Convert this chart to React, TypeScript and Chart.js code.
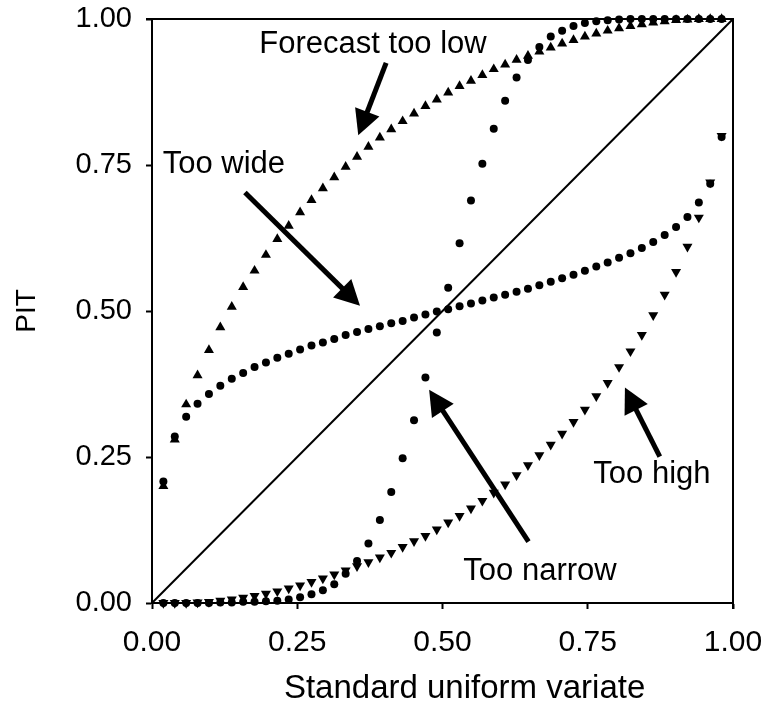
import React, { useEffect, useRef } from 'react';
import { Chart, registerables } from 'chart.js';

Chart.register(...registerables);

// Standard uniform variate positions (ranks i/51)
const xValues = [
  0.0196, 0.0392, 0.0588, 0.0784, 0.0980, 0.1176, 0.1373, 0.1569, 0.1765, 0.1961,
  0.2157, 0.2353, 0.2549, 0.2745, 0.2941, 0.3137, 0.3333, 0.3529, 0.3725, 0.3922,
  0.4118, 0.4314, 0.4510, 0.4706, 0.4902, 0.5098, 0.5294, 0.5490, 0.5686, 0.5882,
  0.6078, 0.6275, 0.6471, 0.6667, 0.6863, 0.7059, 0.7255, 0.7451, 0.7647, 0.7843,
  0.8039, 0.8235, 0.8431, 0.8627, 0.8824, 0.9020, 0.9216, 0.9412, 0.9608, 0.9804,
];

// Forecast too low (up triangles)
const tooLow = [
  0.200, 0.280, 0.340, 0.390, 0.433, 0.472, 0.507, 0.541, 0.569, 0.596,
  0.623, 0.646, 0.669, 0.690, 0.710, 0.729, 0.747, 0.764, 0.781, 0.797,
  0.811, 0.825, 0.838, 0.851, 0.862, 0.874, 0.885, 0.894, 0.904, 0.914,
  0.922, 0.930, 0.937, 0.944, 0.951, 0.958, 0.964, 0.970, 0.975, 0.980,
  0.984, 0.988, 0.991, 0.994, 0.996, 0.998, 0.999, 1.000, 1.000, 1.000,
];

// Forecast too high (down triangles)
const tooHigh = [
  0.000, 0.000, 0.000, 0.001, 0.002, 0.004, 0.006, 0.009, 0.012, 0.016,
  0.020, 0.025, 0.030, 0.036, 0.042, 0.049, 0.056, 0.063, 0.070, 0.078,
  0.086, 0.096, 0.106, 0.115, 0.126, 0.138, 0.149, 0.162, 0.175, 0.189,
  0.203, 0.219, 0.236, 0.253, 0.271, 0.290, 0.310, 0.331, 0.354, 0.377,
  0.404, 0.431, 0.459, 0.493, 0.528, 0.567, 0.610, 0.660, 0.720, 0.800,
];

// Too wide (dots)
const tooWide = [
  0.208, 0.285, 0.319, 0.341, 0.358, 0.372, 0.384, 0.394, 0.404, 0.412,
  0.420, 0.427, 0.434, 0.441, 0.446, 0.452, 0.459, 0.464, 0.469, 0.474,
  0.479, 0.483, 0.489, 0.494, 0.499, 0.503, 0.508, 0.513, 0.518, 0.523,
  0.528, 0.533, 0.538, 0.544, 0.550, 0.556, 0.562, 0.569, 0.576, 0.583,
  0.591, 0.599, 0.608, 0.618, 0.630, 0.644, 0.661, 0.686, 0.718, 0.798,
];

// Too narrow (dots)
const tooNarrow = [
  0.000, 0.000, 0.000, 0.000, 0.000, 0.001, 0.001, 0.002, 0.002, 0.003,
  0.004, 0.006, 0.010, 0.015, 0.022, 0.032, 0.050, 0.072, 0.102, 0.142,
  0.190, 0.248, 0.313, 0.386, 0.463, 0.540, 0.616, 0.689, 0.752, 0.812,
  0.860, 0.900, 0.930, 0.952, 0.970, 0.980, 0.988, 0.993, 0.996, 0.998,
  0.999, 1.000, 1.000, 1.000, 1.000, 1.000, 1.000, 1.000, 1.000, 1.000,
];

const tickValues = [0, 0.25, 0.5, 0.75, 1];

const xTitle = 'Standard uniform variate';
const yTitle = 'PIT';

const annotationLabels = ['Forecast too low', 'Too wide', 'Too narrow', 'Too high'];

// label anchor (left, baseline) and arrow tail/tip, in data units
const annotationLayout = [
  { tx: 0.1847, ty: 0.941, from: [0.403, 0.925], to: [0.355, 0.801] },
  { tx: 0.0184, ty: 0.7358, from: [0.160, 0.703], to: [0.358, 0.509] },
  { tx: 0.5358, ty: 0.0394, from: [0.648, 0.105], to: [0.477, 0.365] },
  { tx: 0.7596, ty: 0.205, from: [0.874, 0.2505], to: [0.814, 0.369] },
];

const FONT = '"Liberation Sans", Arial, sans-serif';

const annotationPlugin = {
  id: 'pitAnnotations',
  afterDatasetsDraw(chart: any) {
    const { ctx, chartArea: a } = chart;
    const xs = chart.scales.x;
    const ys = chart.scales.y;
    ctx.save();
    // top and right frame
    ctx.strokeStyle = '#000';
    ctx.lineWidth = 2;
    ctx.beginPath();
    ctx.moveTo(a.left - 6, a.top);
    ctx.lineTo(a.right, a.top);
    ctx.lineTo(a.right, a.bottom + 6);
    ctx.stroke();

    annotationLayout.forEach((an, i) => {
      const fx = xs.getPixelForValue(an.from[0]);
      const fy = ys.getPixelForValue(an.from[1]);
      const tx = xs.getPixelForValue(an.to[0]);
      const ty = ys.getPixelForValue(an.to[1]);
      const ang = Math.atan2(ty - fy, tx - fx);
      const headLen = 25;
      const halfW = 13;
      const bx = tx - headLen * Math.cos(ang);
      const by = ty - headLen * Math.sin(ang);
      ctx.strokeStyle = '#000';
      ctx.lineWidth = 5;
      ctx.lineCap = 'butt';
      ctx.beginPath();
      ctx.moveTo(fx, fy);
      ctx.lineTo(bx + 2 * Math.cos(ang), by + 2 * Math.sin(ang));
      ctx.stroke();
      const px = -Math.sin(ang);
      const py = Math.cos(ang);
      ctx.fillStyle = '#000';
      ctx.beginPath();
      ctx.moveTo(tx, ty);
      ctx.lineTo(bx + px * halfW, by + py * halfW);
      ctx.lineTo(bx - px * halfW, by - py * halfW);
      ctx.closePath();
      ctx.fill();

      ctx.font = `31px ${FONT}`;
      ctx.textAlign = 'left';
      ctx.textBaseline = 'alphabetic';
      ctx.fillText(annotationLabels[i], xs.getPixelForValue(an.tx), ys.getPixelForValue(an.ty));
    });

    // x axis title
    ctx.font = `33px ${FONT}`;
    ctx.textAlign = 'center';
    ctx.textBaseline = 'alphabetic';
    ctx.fillStyle = '#000';
    ctx.fillText(xTitle, xs.getPixelForValue(0.538), xs.bottom - 5);
    ctx.restore();
  },
};

const toPoints = (vals: number[]) => vals.map((v, i) => ({ x: xValues[i], y: v }));

export default function App() {
  const ref = useRef<HTMLCanvasElement | null>(null);

  useEffect(() => {
    if (!ref.current) return;
    Chart.defaults.font.family = FONT;
    const pointBase = {
      pointBackgroundColor: '#000',
      backgroundColor: '#000',
      pointBorderWidth: 0,
      borderWidth: 0,
      showLine: false,
      clip: false as any,
    };
    const tickCb = (v: any) => Number(v).toFixed(2);
    const chart = new Chart(ref.current, {
      type: 'scatter',
      data: {
        datasets: [
          {
            label: 'Forecast too low',
            data: toPoints(tooLow),
            pointStyle: 'triangle',
            pointRadius: 5.8,
            ...pointBase,
          },
          {
            label: 'Too high',
            data: toPoints(tooHigh),
            pointStyle: 'triangle',
            pointRotation: 180,
            pointRadius: 5.8,
            ...pointBase,
          },
          {
            label: 'Too wide',
            data: toPoints(tooWide),
            pointStyle: 'circle',
            pointRadius: 4,
            ...pointBase,
          },
          {
            label: 'Too narrow',
            data: toPoints(tooNarrow),
            pointStyle: 'circle',
            pointRadius: 4,
            ...pointBase,
          },
          {
            label: 'Uniform',
            data: [
              { x: 0, y: 0 },
              { x: 1, y: 1 },
            ],
            showLine: true,
            borderColor: '#000',
            borderWidth: 2,
            pointRadius: 0,
          } as any,
        ],
      },
      options: {
        animation: false,
        responsive: false,
        events: [],
        layout: { padding: { left: 0, top: 19, right: 43, bottom: 0 } },
        plugins: {
          legend: { display: false },
          tooltip: { enabled: false },
        },
        scales: {
          x: {
            type: 'linear',
            min: 0,
            max: 1,
            afterBuildTicks: (s: any) => {
              s.ticks = tickValues.map((v) => ({ value: v }));
            },
            afterFit: (s: any) => {
              s.height = 100;
              s.paddingLeft = 0;
              s.paddingRight = 0;
            },
            ticks: {
              color: '#000',
              font: { size: 30 },
              padding: 16,
              maxRotation: 0,
              autoSkip: false,
              callback: tickCb,
            },
            grid: {
              drawOnChartArea: false,
              drawTicks: true,
              tickLength: 6,
              tickWidth: 2,
              tickColor: '#000',
              color: '#000',
            },
            border: { display: true, color: '#000', width: 2 },
            title: { display: false, text: xTitle },
          },
          y: {
            type: 'linear',
            min: 0,
            max: 1,
            afterBuildTicks: (s: any) => {
              s.ticks = tickValues.map((v) => ({ value: v }));
            },
            afterFit: (s: any) => {
              s.width = 152;
              s.paddingTop = 0;
              s.paddingBottom = 0;
            },
            ticks: {
              color: '#000',
              font: { size: 29 },
              padding: 14,
              autoSkip: false,
              callback: tickCb,
            },
            grid: {
              drawOnChartArea: false,
              drawTicks: true,
              tickLength: 6,
              tickWidth: 2,
              tickColor: '#000',
              color: '#000',
            },
            border: { display: true, color: '#000', width: 2 },
            title: {
              display: true,
              text: yTitle,
              color: '#000',
              font: { size: 28, lineHeight: 1 },
              padding: { top: 13, bottom: 0 },
            },
          },
        },
      },
      plugins: [annotationPlugin],
    });
    return () => chart.destroy();
  }, []);

  return (
    <div style={{ position: 'absolute', left: 0, top: 0, width: 776, height: 703, background: '#fff' }}>
      <canvas ref={ref} width={776} height={703} style={{ display: 'block' }} />
    </div>
  );
}
